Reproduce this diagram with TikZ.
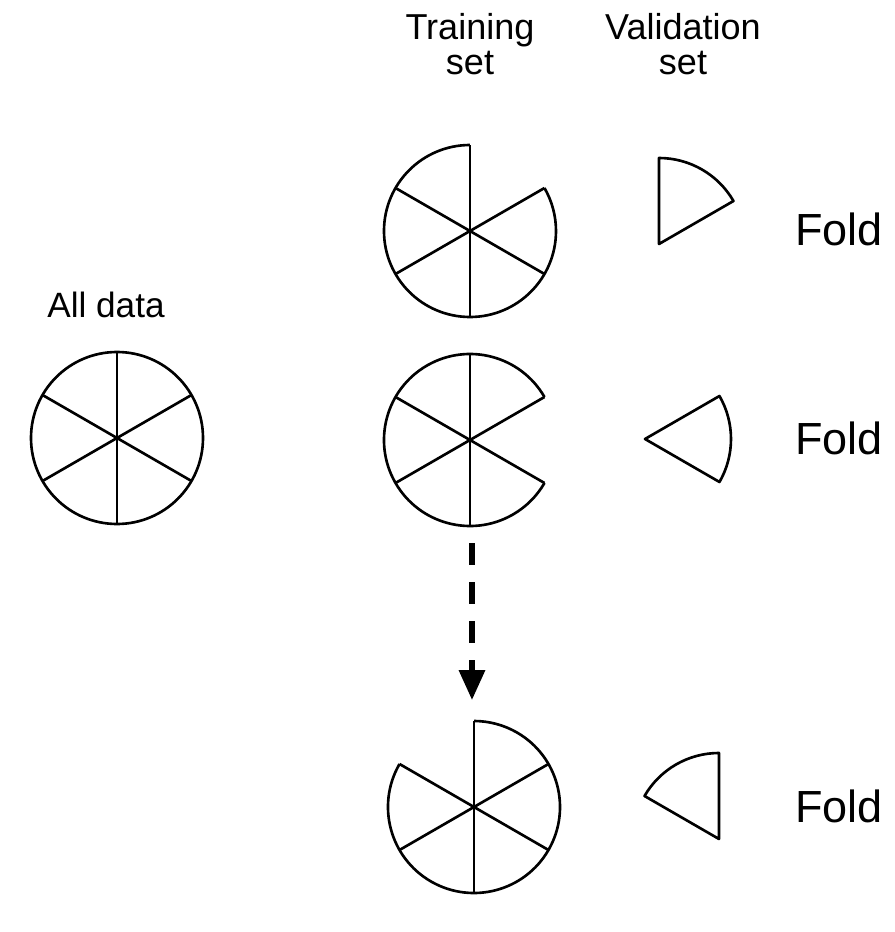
\documentclass[tikz,border=0pt]{standalone}
\usepackage{fontspec}
\setmainfont{Liberation Sans}
\usetikzlibrary{arrows.meta}
\newcommand\mypie[2]{%
  \draw (#1) ++({#2+60}:\R) arc[start angle={#2+60}, end angle={#2+360}, radius=\R];
  \foreach \a in {30,90,...,330} \draw (#1) -- ++(\a:\R);
}
\newcommand\mywedge[3]{%
  \draw (#1) -- ++(#2:\R) arc[start angle=#2, end angle=#3, radius=\R] -- cycle;
}
\begin{document}
\begin{tikzpicture}[x=0.01cm, y=0.01cm, line width=0.75pt, line join=round,
  lbl/.style={font=\fontsize{10.25pt}{12pt}\selectfont, inner sep=0pt, anchor=base},
  foldlbl/.style={font=\fontsize{12.8pt}{15pt}\selectfont, inner sep=0pt, anchor=base west},
  arr/.style={line width=1.5pt, dash pattern=on 6.3pt off 4.8pt, -{Triangle[length=8.5pt,width=7.2pt]}}]
\useasboundingbox (0,0) rectangle (895,932);
\def\R{86}
% centres
\coordinate (All) at (117,494);
\coordinate (T1) at (470,701);
\coordinate (T2) at (470,492);
\coordinate (T3) at (474,125);
\coordinate (V1) at (659,688);
\coordinate (V2) at (645,493);
\coordinate (V3) at (719,93);
% all data
\draw (All) circle[radius=\R];
\foreach \a in {30,90,...,330} \draw (All) -- ++(\a:\R);
% training sets
\mypie{T1}{30}
\mypie{T2}{-30}
\mypie{T3}{90}
% validation sets
\mywedge{V1}{30}{90}
\mywedge{V2}{-30}{30}
\mywedge{V3}{90}{150}
% labels
\node[lbl] (trainA) at (470,893) {Training};
\node[lbl] (trainB) at (470,858) {set};
\node[lbl] (valA) at (683,893) {Validation};
\node[lbl] (valB) at (683,858) {set};
\node[lbl, font=\fontsize{10pt}{12pt}\selectfont] (all) at (106,615) {All data};
\node[foldlbl] (f1) at (794,687) {Fold};
\node[foldlbl] (f2) at (794,478) {Fold};
\node[foldlbl] (f3) at (794,110) {Fold};
% arrow
\coordinate (arrS) at (472,389);
\coordinate (arrE) at (472,232);
\draw[arr] (arrS) -- (arrE);
\end{tikzpicture}
\end{document}
